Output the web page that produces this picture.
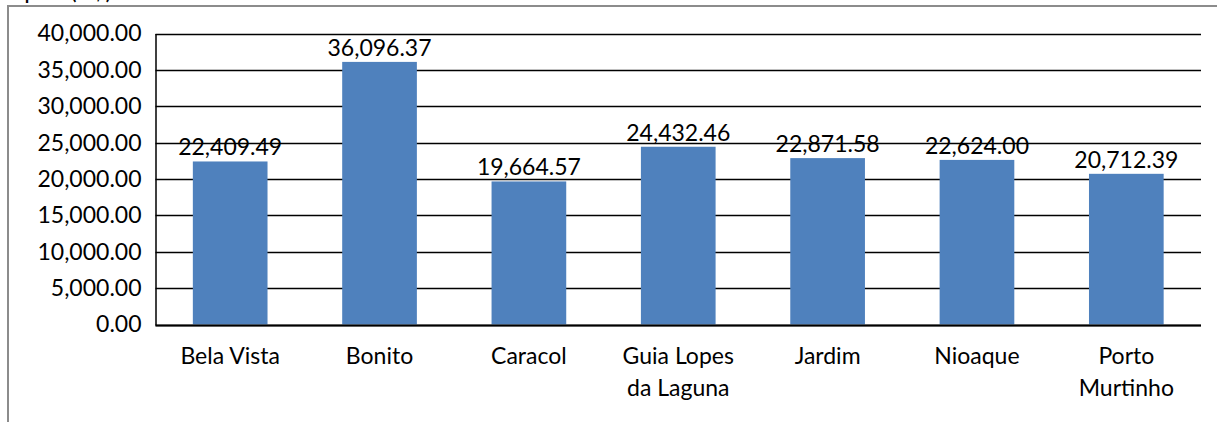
<!DOCTYPE html>
<html>
<head>
<meta charset="utf-8">
<script src="https://cdn.jsdelivr.net/npm/d3@7"></script>
<style>
  body { margin: 0; background: #fff; }
  text { font-family: Lato, "Noto Sans", sans-serif; fill: #000; }
</style>
</head>
<body>
<div id="main"></div>
<script>
/*********************************************************
 * Data
 *********************************************************/
const cities = [
  ['Bela Vista'],
  ['Bonito'],
  ['Caracol'],
  ['Guia Lopes', 'da Laguna'],
  ['Jardim'],
  ['Nioaque'],
  ['Porto', 'Murtinho']
];
const values = [22409.49, 36096.37, 19664.57, 24432.46, 22871.58, 22624.0, 20712.39];
const yTicks = [0, 5000, 10000, 15000, 20000, 25000, 30000, 35000, 40000];

/*********************************************************
 * Layout
 *********************************************************/
const svgWidth = 1217;
const svgHeight = 422;
const plot = { l: 155.5, r: 1201, t: 33.5, b: 324.5 };
const fontSize = 23;

const svg = d3
  .select('#main')
  .append('svg')
  .attr('width', svgWidth)
  .attr('height', svgHeight);

// outer chart border (mostly cut off on the right and bottom)
svg
  .append('rect')
  .attr('x', 8)
  .attr('y', 6)
  .attr('width', svgWidth)
  .attr('height', svgHeight)
  .attr('fill', 'none')
  .attr('stroke', '#8c8c8c')
  .attr('stroke-width', 2);

// title, cut off at the top in the source image
svg
  .append('text')
  .attr('x', 112)
  .attr('y', -1)
  .attr('text-anchor', 'end')
  .style('font-size', '24px')
  .text('PIB per capita (R$)');

const x = d3
  .scaleBand()
  .domain(d3.range(cities.length))
  .range([plot.l, plot.r])
  .paddingInner(0.5)
  .paddingOuter(0.25);

const y = d3
  .scaleLinear()
  .domain([0, 40000])
  .range([plot.b, plot.t]);

const fmt = d3.format(',.2f');

// gridlines
svg
  .append('g')
  .selectAll('line')
  .data(yTicks)
  .enter()
  .append('line')
  .attr('x1', plot.l)
  .attr('x2', plot.r)
  .attr('y1', d => Math.round(y(d)) + 0.5)
  .attr('y2', d => Math.round(y(d)) + 0.5)
  .attr('stroke', '#000')
  .attr('stroke-width', 1.5);

// y axis labels
const yAxis = d3
  .axisLeft(y)
  .tickValues(yTicks)
  .tickFormat(fmt)
  .tickSize(0)
  .tickPadding(14);

const yG = svg
  .append('g')
  .attr('transform', `translate(${plot.l},0)`)
  .call(yAxis);
yG.select('.domain').attr('stroke', '#000').attr('stroke-width', 1.5);
yG.selectAll('text')
  .style('font-size', fontSize + 'px')
  .style('font-family', 'Lato, "Noto Sans", sans-serif')
  .attr('fill', '#000');

// bars
svg
  .append('g')
  .selectAll('rect')
  .data(values)
  .enter()
  .append('rect')
  .attr('x', (d, i) => x(i))
  .attr('y', d => y(d))
  .attr('width', x.bandwidth())
  .attr('height', d => y(0) - y(d))
  .attr('fill', '#4F81BD');

// baseline on top of bars
svg
  .append('line')
  .attr('x1', plot.l)
  .attr('x2', plot.r)
  .attr('y1', Math.round(y(0)) + 0.5)
  .attr('y2', Math.round(y(0)) + 0.5)
  .attr('stroke', '#000')
  .attr('stroke-width', 2);

// value labels
svg
  .append('g')
  .selectAll('text')
  .data(values)
  .enter()
  .append('text')
  .attr('x', (d, i) => x(i) + x.bandwidth() / 2)
  .attr('y', d => y(d) - 6)
  .attr('text-anchor', 'middle')
  .style('font-size', fontSize + 'px')
  .text(d => fmt(d));

// category labels
const cat = svg
  .append('g')
  .selectAll('text')
  .data(cities)
  .enter()
  .append('text')
  .attr('text-anchor', 'middle')
  .style('font-size', fontSize + 'px');

cat
  .selectAll('tspan')
  .data((d, i) => d.map(line => ({ line, i })))
  .enter()
  .append('tspan')
  .attr('x', d => x(d.i) + x.bandwidth() / 2)
  .attr('y', (d, j) => 364 + j * 32)
  .text(d => d.line);
</script>
</body>
</html>
